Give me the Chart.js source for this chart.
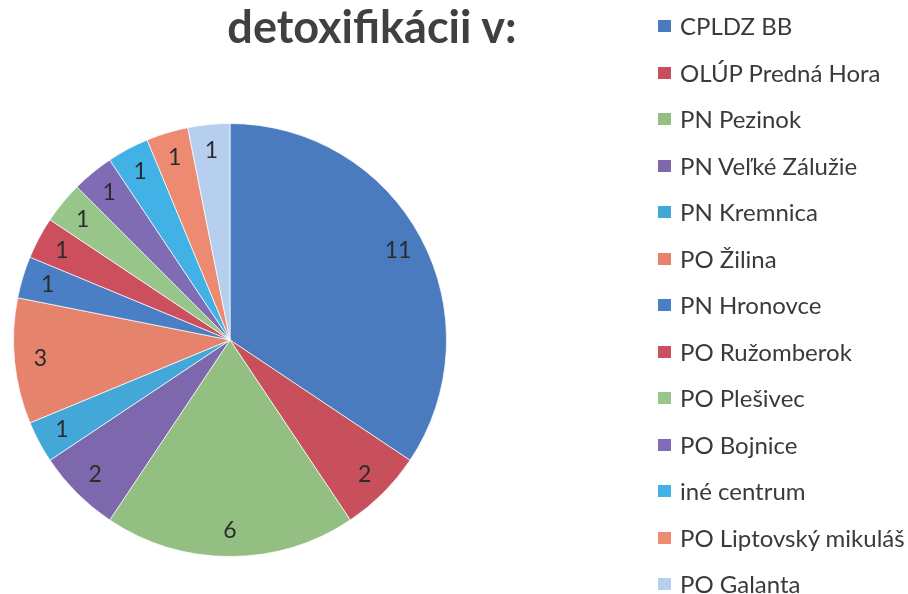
<!DOCTYPE html>
<html>
<head>
<meta charset="utf-8">
<script src="https://cdn.jsdelivr.net/npm/chart.js@4.4.1/dist/chart.umd.min.js"></script>
<style>
  html, body { margin: 0; padding: 0; background: #fff; }
  #wrap { position: relative; width: 908px; height: 594px; overflow: hidden; }
  #pie { position: absolute; left: 0; top: 0; }
  #title {
    position: absolute; left: 372px; top: -1px; transform: translateX(-50%);
    font: bold 45px Lato, sans-serif; color: #404040; white-space: nowrap;
  }
  #legend { position: absolute; left: 658px; top: 0; }
  .item { position: absolute; left: 0; height: 30px; white-space: nowrap;
    font: 24px Lato, sans-serif; color: #3a3a3a; line-height: 30px; }
  .item span.box { position: absolute; left: 0; top: 9px; width: 13px; height: 12px; }
  .item span.txt { position: absolute; left: 22px; top: 0; }
</style>
</head>
<body>
<div id="wrap">
  <canvas id="pie" width="460" height="594"></canvas>
  <div id="title">detoxifikácii v:</div>
  <div id="legend"></div>
</div>
<script>
// ======================================================
// DATA
// ======================================================
const titleText = 'detoxifikácii v:';
const centers = [
  'CPLDZ BB', 'OLÚP Predná Hora', 'PN Pezinok', 'PN Veľké Zálužie',
  'PN Kremnica', 'PO Žilina', 'PN Hronovce', 'PO Ružomberok',
  'PO Plešivec', 'PO Bojnice', 'iné centrum', 'PO Liptovský mikuláš', 'PO Galanta'
];
const counts = [11, 2, 6, 2, 1, 3, 1, 1, 1, 1, 1, 1, 1];
const sliceColors = [
  '#4a7bbf', '#c8505c', '#94bf82', '#7d68ad', '#43a8d8', '#e6836c', '#4a7fc6',
  '#cc4f5e', '#97c58a', '#806cb4', '#41b1e6', '#ec8a72', '#b6cfee'
];

// ======================================================
// VALUE LABELS (inside slices, near the rim)
// ======================================================
const sliceLabels = {
  id: 'sliceLabels',
  afterDatasetsDraw(chart) {
    const { ctx } = chart;
    const meta = chart.getDatasetMeta(0);
    ctx.save();
    ctx.font = '23px Lato, sans-serif';
    ctx.fillStyle = '#2b2b2b';
    ctx.textAlign = 'center';
    ctx.textBaseline = 'middle';
    meta.data.forEach((arc, i) => {
      const { x, y, startAngle, endAngle, outerRadius } = arc.getProps(['x', 'y', 'startAngle', 'endAngle', 'outerRadius'], true);
      const mid = (startAngle + endAngle) / 2;
      const r = outerRadius * 0.88;
      ctx.fillText(String(counts[i]), x + Math.cos(mid) * r, y + Math.sin(mid) * r);
    });
    ctx.restore();
  }
};

function initChart() {
  const ctx = document.getElementById('pie').getContext('2d');
  new Chart(ctx, {
    type: 'pie',
    data: {
      labels: centers,
      datasets: [{
        data: counts,
        backgroundColor: sliceColors,
        borderColor: 'rgba(255,255,255,0.7)',
        borderWidth: 1,
      }]
    },
    options: {
      responsive: false,
      animation: false,
      layout: { padding: { top: 123, bottom: 37, left: 13, right: 13 } },
      plugins: {
        legend: { display: false },
        tooltip: { enabled: false },
      }
    },
    plugins: [sliceLabels]
  });
}

function buildLegend() {
  const el = document.getElementById('legend');
  const firstRow = 26, rowStep = 46.5;
  centers.forEach((name, i) => {
    const item = document.createElement('div');
    item.className = 'item';
    item.style.top = (firstRow + i * rowStep - 15) + 'px';
    item.innerHTML = '<span class="box" style="background:' + sliceColors[i] + '"></span><span class="txt"></span>';
    item.querySelector('.txt').textContent = name;
    el.appendChild(item);
  });
}

document.getElementById('title').textContent = titleText;
initChart();
buildLegend();
</script>
</body>
</html>
